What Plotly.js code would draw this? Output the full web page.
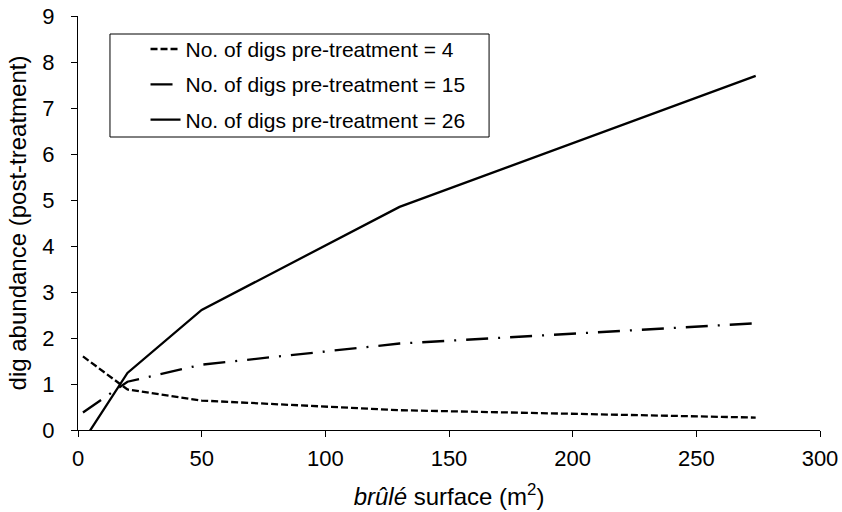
<!DOCTYPE html>
<html>
<head>
<meta charset="utf-8">
<script src="https://cdn.plot.ly/plotly-3.0.1.min.js"></script>
<style>html,body{margin:0;padding:0;background:#fff;}#chart{width:842px;height:512px;}</style>
</head>
<body>
<div id="chart"></div>
<script>
const surface = [2, 20, 50, 130, 274];
const digs4 = [1.60, 0.88, 0.64, 0.43, 0.27];
const digs15 = [0.38, 1.05, 1.42, 1.88, 2.32];
const digs26 = [-0.25, 1.24, 2.61, 4.85, 7.70];
const seriesNames = [
  'No. of digs pre-treatment = 4',
  'No. of digs pre-treatment = 15',
  'No. of digs pre-treatment = 26'
];
const xTicks = [0, 50, 100, 150, 200, 250, 300];
const yTicks = [0, 1, 2, 3, 4, 5, 6, 7, 8, 9];

const font = 'Liberation Sans';
const traces = [
  {x: surface, y: digs4, name: seriesNames[0], legendgroup: 'a', mode: 'lines',
   line: {color: '#000', width: 2.3, dash: '7px,3px'}},
  {x: surface, y: digs15, name: seriesNames[1], legendgroup: 'b', mode: 'lines',
   line: {color: '#000', width: 2.3, dash: '22px,10px,2px,10px'}},
  {x: surface, y: digs26, name: seriesNames[2], legendgroup: 'c', mode: 'lines',
   line: {color: '#000', width: 2.3}}
];
const layout = {
  width: 842, height: 512,
  margin: {l: 78, r: 22, t: 16, b: 82},
  paper_bgcolor: '#fff', plot_bgcolor: '#fff',
  font: {family: font, size: 22, color: '#000'},
  showlegend: true,
  legend: {x: 0.091, y: 0.969, xanchor: 'left', yanchor: 'top',
    borderwidth: 0, bgcolor: 'rgba(0,0,0,0)',
    font: {family: font, size: 21, color: '#000'},
    tracegroupgap: 5, traceorder: 'grouped'},
  shapes: [{type: 'rect', xref: 'paper', yref: 'paper',
    x0: 0.0431, x1: 0.554, y0: 0.7077, y1: 0.9565,
    line: {color: '#000', width: 1}, fillcolor: '#fff', layer: 'below'}],
  xaxis: {range: [0, 300], tickvals: xTicks, ticktext: xTicks.map(String),
    showgrid: false, zeroline: false, showline: true, linecolor: '#000', linewidth: 1,
    ticks: 'outside', ticklen: 6, tickcolor: '#000', ticklabelstandoff: 3,
    tickfont: {family: font, size: 22},
    title: {text: '<i>brûlé</i> surface (m<sup>2</sup>)', font: {family: font, size: 24}, standoff: 17}},
  yaxis: {range: [0, 9], tickvals: yTicks, ticktext: yTicks.map(String),
    showgrid: false, zeroline: false, showline: true, linecolor: '#000', linewidth: 1,
    ticks: 'outside', ticklen: 6, tickcolor: '#000', ticklabelstandoff: 12,
    tickfont: {family: font, size: 22},
    title: {text: 'dig abundance (post-treatment)', font: {family: font, size: 24}, standoff: 8}}
};
Plotly.newPlot('chart', traces, layout, {staticPlot: true, displayModeBar: false});
</script>
</body>
</html>
